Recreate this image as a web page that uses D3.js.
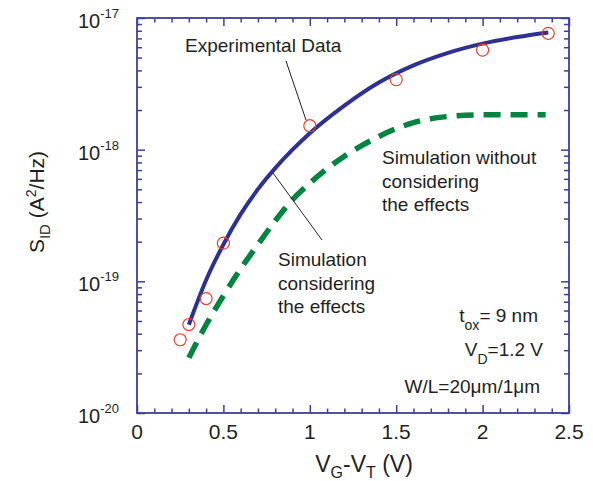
<!DOCTYPE html>
<html>
<head>
<meta charset="utf-8">
<script src="https://cdn.jsdelivr.net/npm/d3@7"></script>
<style>
  body { margin: 0; background: #fff; }
  text { font-family: "Liberation Sans", Arial, sans-serif; fill: #231f20; }
</style>
</head>
<body>
<script>
// measured points (V, A^2/Hz)
const expX = [0.25, 0.3, 0.4, 0.5, 1.0, 1.5, 2.0, 2.38];
const expY = [3.6e-20, 4.7e-20, 7.4e-20, 1.95e-19, 1.52e-18, 3.4e-18, 5.7e-18, 7.65e-18];

// simulation considering the effects (log10 values)
const simX = [0.3, 0.4, 0.5, 0.6, 0.7, 0.8, 0.9, 1.0, 1.2, 1.4, 1.6, 1.8, 2.0, 2.2, 2.38];
const simLog = [-19.33, -18.99, -18.72, -18.49, -18.3, -18.14, -18.0, -17.875, -17.665, -17.49, -17.36, -17.265, -17.195, -17.145, -17.11];

// simulation without considering the effects (log10 values)
const noX = [0.3, 0.4, 0.5, 0.6, 0.7, 0.8, 0.9, 1.0, 1.1, 1.2, 1.3, 1.4, 1.5, 1.6, 1.7, 1.8, 1.9, 2.0, 2.365];
const noLog = [-19.58, -19.33, -19.11, -18.905, -18.72, -18.54, -18.38, -18.255, -18.145, -18.05, -17.97, -17.9, -17.84, -17.795, -17.765, -17.748, -17.738, -17.735, -17.735];

const xMajor = [0, 0.5, 1, 1.5, 2, 2.5];
const xTickLabels = ["0", "0.5", "1", "1.5", "2", "2.5"];
const yMajorExp = [-20, -19, -18, -17];

const W = 593, H = 481;
const pLeft = 137, pRight = 569, pTop = 18, pBottom = 413;
const axisColor = "#3d3f98";

const svg = d3.select("body").append("svg")
    .attr("width", W)
    .attr("height", H);

const x = d3.scaleLinear().domain([0, 2.5]).range([pLeft, pRight]);
const y = d3.scaleLog().domain([1e-20, 1e-17]).range([pBottom, pTop]);

// minor tick values
const xMinor = d3.range(0, 25).map(d => d / 10).filter(d => Math.round(d * 10) % 5 !== 0);
let yMinor = [];
for (let e = -20; e < -17; e++) {
    for (let k = 2; k <= 9; k++) yMinor.push(k * Math.pow(10, e));
}
const yMajor = yMajorExp.map(e => Math.pow(10, e));

function styleAxis(g) {
    g.selectAll("path,line").attr("stroke", axisColor).attr("stroke-width", 1.5);
    g.selectAll("text").remove();
    g.select(".domain").remove();
}

// ticks on all four sides, pointing in
svg.append("g").attr("transform", `translate(0,${pBottom})`)
    .call(d3.axisBottom(x).tickValues(xMajor).tickSize(-8)).call(styleAxis);
svg.append("g").attr("transform", `translate(0,${pBottom})`)
    .call(d3.axisBottom(x).tickValues(xMinor).tickSize(-4.5)).call(styleAxis);
svg.append("g").attr("transform", `translate(0,${pTop})`)
    .call(d3.axisTop(x).tickValues(xMajor).tickSize(-8)).call(styleAxis);
svg.append("g").attr("transform", `translate(0,${pTop})`)
    .call(d3.axisTop(x).tickValues(xMinor).tickSize(-4.5)).call(styleAxis);
svg.append("g").attr("transform", `translate(${pLeft},0)`)
    .call(d3.axisLeft(y).tickValues(yMajor).tickSize(-8)).call(styleAxis);
svg.append("g").attr("transform", `translate(${pLeft},0)`)
    .call(d3.axisLeft(y).tickValues(yMinor).tickSize(-5)).call(styleAxis);
svg.append("g").attr("transform", `translate(${pRight},0)`)
    .call(d3.axisRight(y).tickValues(yMajor).tickSize(-8)).call(styleAxis);
svg.append("g").attr("transform", `translate(${pRight},0)`)
    .call(d3.axisRight(y).tickValues(yMinor).tickSize(-5)).call(styleAxis);

// frame
svg.append("rect")
    .attr("x", pLeft).attr("y", pTop)
    .attr("width", pRight - pLeft).attr("height", pBottom - pTop)
    .attr("fill", "none").attr("stroke", axisColor).attr("stroke-width", 1.8);

// tick labels
svg.append("g").selectAll("text")
    .data(xMajor)
    .join("text")
    .attr("x", d => x(d))
    .attr("y", 439)
    .attr("text-anchor", "middle")
    .attr("font-size", 21)
    .text((d, i) => xTickLabels[i]);

const yl = svg.append("g").selectAll("text")
    .data(yMajorExp)
    .join("text")
    .attr("x", 119)
    .attr("y", d => y(Math.pow(10, d)) + 10)
    .attr("text-anchor", "end")
    .attr("font-size", 20);
yl.append("tspan").text("10");
yl.append("tspan").attr("dy", -10).attr("font-size", 13).text(d => d);

// axis titles
const xt = svg.append("text")
    .attr("x", 364).attr("y", 472)
    .attr("text-anchor", "middle")
    .attr("font-size", 23);
xt.append("tspan").text("V");
xt.append("tspan").attr("font-size", 16).attr("dy", 6).text("G");
xt.append("tspan").attr("dy", -6).text("-V");
xt.append("tspan").attr("font-size", 16).attr("dy", 6).text("T");
xt.append("tspan").attr("dy", -6).text(" (V)");

const yt = svg.append("text")
    .attr("transform", "translate(44,202) rotate(-90)")
    .attr("text-anchor", "middle")
    .attr("font-size", 21);
yt.append("tspan").text("S");
yt.append("tspan").attr("font-size", 15).attr("dy", 6).text("ID");
yt.append("tspan").attr("dy", -6).text(" (A");
yt.append("tspan").attr("font-size", 14).attr("dy", -8).text("2");
yt.append("tspan").attr("dy", 8).text("/Hz)");

// curves
const line = d3.line()
    .x(d => x(d[0]))
    .y(d => y(Math.pow(10, d[1])))
    .curve(d3.curveMonotoneX);

svg.append("path")
    .datum(noX.map((v, i) => [v, noLog[i]]))
    .attr("d", line)
    .attr("fill", "none")
    .attr("stroke", "#00843f")
    .attr("stroke-width", 5.5)
    .attr("stroke-dasharray", "17,10");

svg.append("path")
    .datum(simX.map((v, i) => [v, simLog[i]]))
    .attr("d", line)
    .attr("fill", "none")
    .attr("stroke", "#2e3192")
    .attr("stroke-width", 4);

svg.append("g").selectAll("circle")
    .data(expX.map((v, i) => [v, expY[i]]))
    .join("circle")
    .attr("cx", d => x(d[0]))
    .attr("cy", d => y(d[1]))
    .attr("r", 6)
    .attr("fill", "none")
    .attr("stroke", "#e8412c")
    .attr("stroke-width", 1.2);

// annotations
function leader(x1, y1, x2, y2) {
    svg.append("line")
        .attr("x1", x1).attr("y1", y1).attr("x2", x2).attr("y2", y2)
        .attr("stroke", "#231f20").attr("stroke-width", 1);
}
leader(286, 61, 306, 120);
leader(273, 173, 322, 240);

svg.append("text").attr("x", 185).attr("y", 52).attr("font-size", 19).text("Experimental Data");

function block(lines, x0, y0, dy) {
    lines.forEach((t, i) => {
        svg.append("text").attr("x", x0).attr("y", y0 + i * dy).attr("font-size", 19).text(t);
    });
}
block(["Simulation", "considering", "the effects"], 278, 266, 23.5);
block(["Simulation without", "considering", "the effects"], 382, 164, 23.5);

const t1 = svg.append("text").attr("x", 538).attr("y", 322).attr("text-anchor", "end").attr("font-size", 19);
t1.append("tspan").text("t");
t1.append("tspan").attr("font-size", 14).attr("dy", 8).text("ox");
t1.append("tspan").attr("dy", -8).text("= 9 nm");

const t2 = svg.append("text").attr("x", 543).attr("y", 356).attr("text-anchor", "end").attr("font-size", 19);
t2.append("tspan").text("V");
t2.append("tspan").attr("font-size", 14).attr("dy", 8).text("D");
t2.append("tspan").attr("dy", -8).text("=1.2 V");

svg.append("text").attr("x", 540).attr("y", 393).attr("text-anchor", "end").attr("font-size", 19)
    .text("W/L=20\u03bcm/1\u03bcm");
</script>
</body>
</html>
